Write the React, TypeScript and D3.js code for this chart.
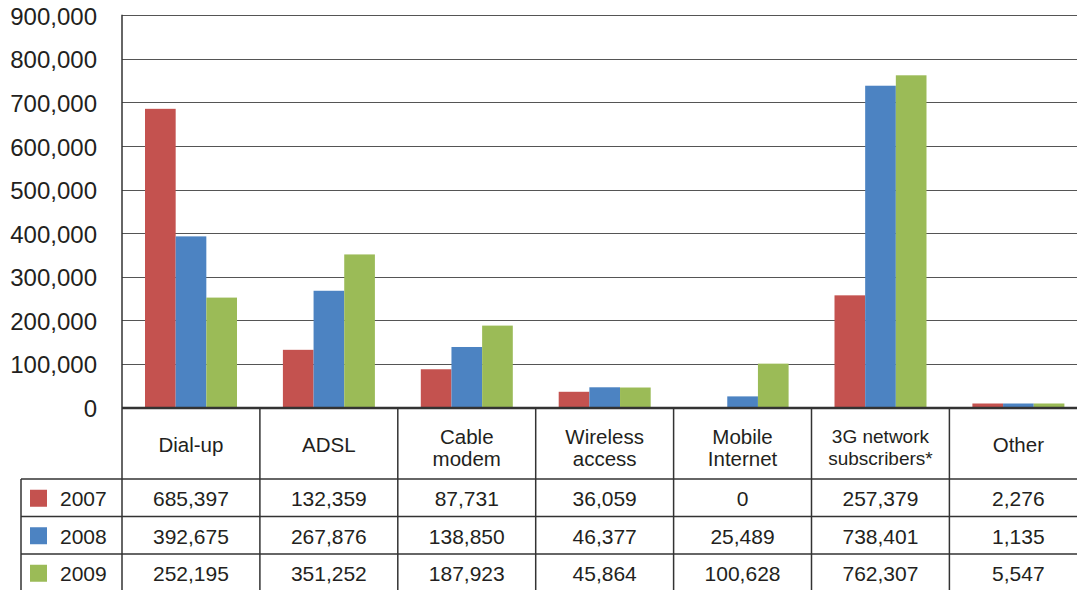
import { useEffect, useRef } from 'react';
import * as d3 from 'd3';

const categories = ['Dial-up', 'ADSL', 'Cable\nmodem', 'Wireless\naccess', 'Mobile\nInternet', '3G network\nsubscribers*', 'Other'];
const years = ['2007', '2008', '2009'];
const values2007 = [685397, 132359, 87731, 36059, 0, 257379, 2276];
const values2008 = [392675, 267876, 138850, 46377, 25489, 738401, 1135];
const values2009 = [252195, 351252, 187923, 45864, 100628, 762307, 5547];
const yTicks = [0, 100000, 200000, 300000, 400000, 500000, 600000, 700000, 800000, 900000];
const colors = ['#c4524f', '#4c83c2', '#9bbb57'];

const W = 1077;
const H = 590;

export default function App() {
  const svgRef = useRef<SVGSVGElement>(null);

  useEffect(() => {
    if (!svgRef.current) return;
    const svg = d3.select(svgRef.current);
    svg.selectAll('*').remove();

    const series = [values2007, values2008, values2009];
    const left = 122;
    const colW = 137.9;
    const top = 15.3;
    const base = 407.5;
    const tableLeft = 21;
    const headerBottom = 479;
    const rowH = 37.5;
    const font = '"Liberation Sans", Arial, Helvetica, sans-serif';

    const x0 = d3.scaleBand<string>()
      .domain(categories)
      .range([left, left + colW * categories.length])
      .padding(0);
    const x1 = d3.scaleBand<string>()
      .domain(years)
      .range([23, 115])
      .padding(0);
    const y = d3.scaleLinear().domain([0, 900000]).range([base, top]);

    // Grid lines
    svg.append('g')
      .selectAll('line')
      .data(yTicks.filter(t => t > 0))
      .join('line')
      .attr('x1', left)
      .attr('x2', W)
      .attr('y1', d => Math.round(y(d)) + 0.5)
      .attr('y2', d => Math.round(y(d)) + 0.5)
      .attr('stroke', '#555')
      .attr('stroke-width', 1);

    // Y tick labels
    svg.append('g')
      .selectAll('text')
      .data(yTicks)
      .join('text')
      .attr('x', 97)
      .attr('y', d => y(d) + 1)
      .attr('text-anchor', 'end')
      .attr('dominant-baseline', 'central')
      .style('font-family', font)
      .style('font-size', '24px')
      .style('fill', '#231f20')
      .text(d => d3.format(',')(d));

    // Bars
    years.forEach((yr, si) => {
      svg.append('g')
        .selectAll('rect')
        .data(series[si].map((v, i) => ({ v, cat: categories[i] })))
        .join('rect')
        .attr('x', d => (x0(d.cat) || 0) + (x1(yr) || 0))
        .attr('width', x1.bandwidth())
        .attr('y', d => {
          const h = d.v > 0 ? Math.max(base - y(d.v), 4) : 0;
          return base - h;
        })
        .attr('height', d => (d.v > 0 ? Math.max(base - y(d.v), 4) : 0))
        .attr('fill', colors[si]);
    });

    const lineCol = '#333';
    const lines = svg.append('g');
    // y axis + column separators through header
    lines.append('line')
      .attr('x1', left).attr('x2', left).attr('y1', top - 0.5).attr('y2', H)
      .attr('stroke', lineCol).attr('stroke-width', 1.5);
    lines.selectAll('.col')
      .data(categories.slice(1))
      .join('line')
      .attr('class', 'col')
      .attr('x1', d => x0(d) || 0)
      .attr('x2', d => x0(d) || 0)
      .attr('y1', base)
      .attr('y2', H)
      .attr('stroke', lineCol)
      .attr('stroke-width', 1.5);
    // x axis line
    lines.append('line')
      .attr('x1', left).attr('x2', W).attr('y1', base + 0.5).attr('y2', base + 0.5)
      .attr('stroke', '#333').attr('stroke-width', 2.5);
    // table row lines
    lines.selectAll('.row')
      .data([0, 1, 2])
      .join('line')
      .attr('class', 'row')
      .attr('x1', tableLeft)
      .attr('x2', W)
      .attr('y1', d => headerBottom + d * rowH)
      .attr('y2', d => headerBottom + d * rowH)
      .attr('stroke', lineCol)
      .attr('stroke-width', 1.5);
    lines.append('line')
      .attr('x1', tableLeft).attr('x2', tableLeft).attr('y1', headerBottom).attr('y2', H)
      .attr('stroke', lineCol).attr('stroke-width', 1.5);

    // Category headers
    const headers = svg.append('g')
      .selectAll('text')
      .data(categories)
      .join('text')
      .attr('text-anchor', 'middle')
      .style('font-family', font)
      .style('font-size', d => (d.startsWith('3G') ? '19px' : '20.5px'))
      .style('fill', '#231f20');
    headers.each(function (d) {
      const parts = d.split('\n');
      const cx = (x0(d) || 0) + colW / 2;
      const t = d3.select(this);
      const startY = parts.length === 1 ? 444.5 : 436;
      parts.forEach((p, i) => {
        t.append('tspan')
          .attr('x', cx)
          .attr('y', startY + i * 22)
          .attr('dominant-baseline', 'central')
          .text(p);
      });
    });

    // Data rows
    years.forEach((yr, si) => {
      const cy = headerBottom + si * rowH + rowH / 2 + 1;
      svg.append('rect')
        .attr('x', 30)
        .attr('y', cy - 9)
        .attr('width', 17)
        .attr('height', 17)
        .attr('fill', colors[si]);
      svg.append('text')
        .attr('x', 60)
        .attr('y', cy)
        .attr('dominant-baseline', 'central')
        .style('font-family', font)
        .style('font-size', '21px')
        .style('fill', '#231f20')
        .text(yr);
      svg.append('g')
        .selectAll('text')
        .data(series[si].map((v, i) => ({ v, cat: categories[i] })))
        .join('text')
        .attr('x', d => (x0(d.cat) || 0) + colW / 2)
        .attr('y', cy)
        .attr('text-anchor', 'middle')
        .attr('dominant-baseline', 'central')
        .style('font-family', font)
        .style('font-size', '21px')
        .style('fill', '#231f20')
        .text(d => d3.format(',')(d.v));
    });
  }, []);

  return (
    <div style={{ position: 'absolute', left: 0, top: 0, width: W, height: H, background: '#fff' }}>
      <svg ref={svgRef} width={W} height={H} style={{ display: 'block' }} />
    </div>
  );
}
